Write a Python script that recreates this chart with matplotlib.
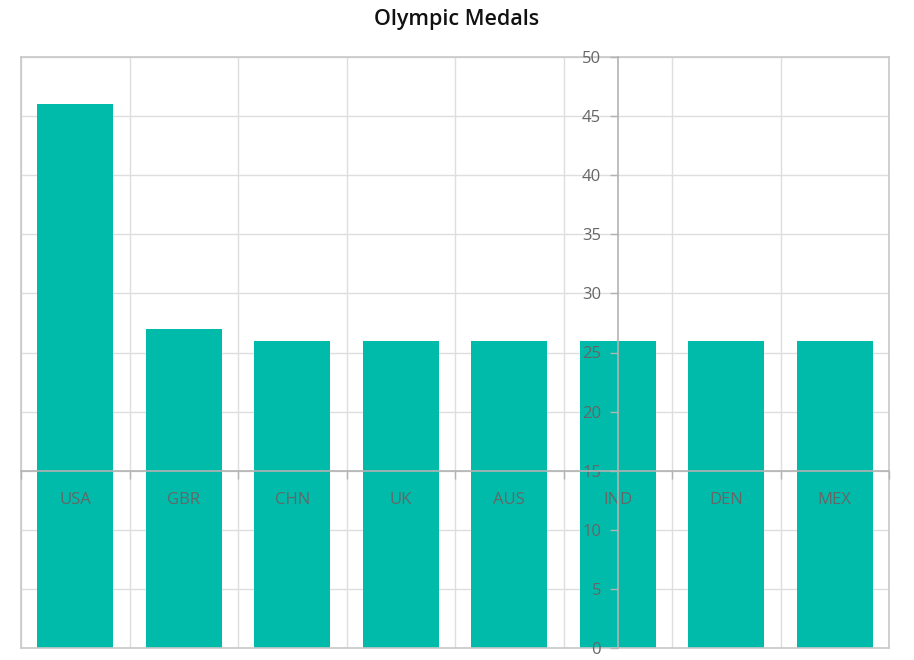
import matplotlib
matplotlib.use('Agg')
import matplotlib.pyplot as plt
import numpy as np

# Medaillen je Land
laender = ['USA', 'GBR', 'CHN', 'UK', 'AUS', 'IND', 'DEN', 'MEX']
medaillen = [46, 27, 26, 26, 26, 26, 26, 26]
y_ticks = list(range(0, 51, 5))

plt.rcParams['font.family'] = ['Open Sans', 'DejaVu Sans']

farbe_balken = '#00bbaa'
farbe_gitter = '#dedede'
farbe_achse = '#b3b3b3'
farbe_text = '#666666'

fig = plt.figure(figsize=(9.14, 6.6), dpi=100)
pos = [21 / 914, 12 / 660, 868 / 914, 591 / 660]

# Hintergrund: Gitter, Rahmen, Balken
ax = fig.add_axes(pos)
x = np.arange(len(laender))
ax.bar(x, medaillen, width=0.7, color=farbe_balken, zorder=2)
ax.set_xlim(-0.5, len(laender) - 0.5)
ax.set_ylim(y_ticks[0], y_ticks[-1])
ax.set_xticks(np.arange(-0.5, len(laender), 1))
ax.set_yticks(y_ticks)
ax.grid(color=farbe_gitter, lw=1)
ax.set_axisbelow(True)
ax.tick_params(length=0, labelleft=False, labelbottom=False)
for s in ax.spines.values():
    s.set_color('#c8c8c8')
    s.set_linewidth(1.2)

# Vordergrund: gekreuzte Achsen (y bei IND, x bei 15)
ax2 = fig.add_axes(pos)
ax2.patch.set_visible(False)
ax2.set_xlim(-0.5, len(laender) - 0.5)
ax2.set_ylim(y_ticks[0], y_ticks[-1])
ax2.spines['top'].set_visible(False)
ax2.spines['right'].set_visible(False)
ax2.spines['left'].set_position(('data', 5))
ax2.spines['bottom'].set_position(('data', 15))
for k in ['left', 'bottom']:
    ax2.spines[k].set_color(farbe_achse)
    ax2.spines[k].set_linewidth(1.2)

ax2.set_xticks(x)
ax2.set_xticklabels(laender)
ax2.set_xticks(np.arange(-0.5, len(laender), 1), minor=True)
ax2.tick_params(axis='x', which='major', length=0, pad=15,
                labelsize=12, labelcolor=farbe_text)
ax2.tick_params(axis='x', which='minor', length=6, width=1, color=farbe_achse)
ax2.set_yticks(y_ticks)
ax2.tick_params(axis='y', length=6, width=1, color=farbe_achse, pad=6,
                labelsize=12, labelcolor=farbe_text)

fig.suptitle('Olympic Medals', fontsize=15.5, color='#111111', y=0.971,
             va='center', fontweight='semibold')

plt.savefig('out.png', dpi=100)
